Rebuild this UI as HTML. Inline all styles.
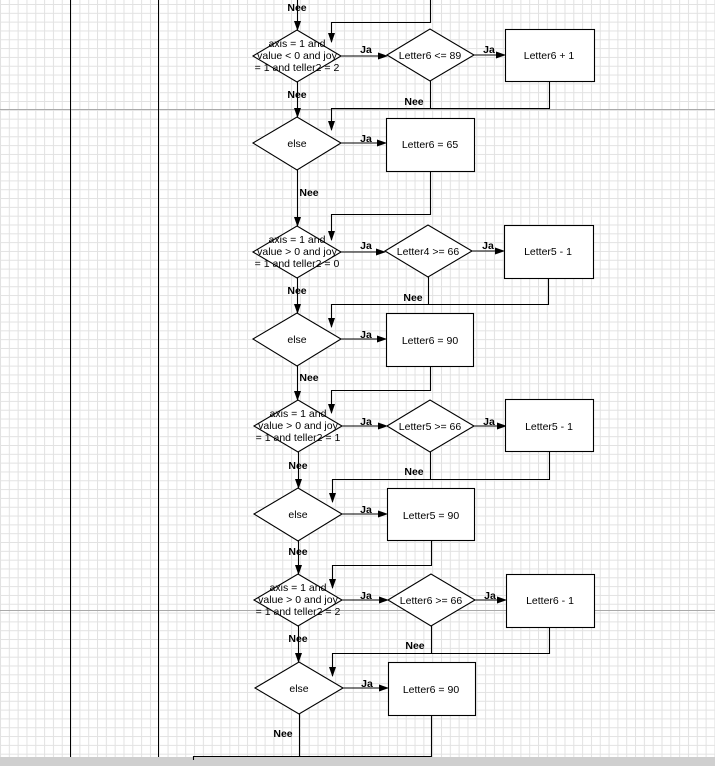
<!DOCTYPE html>
<html><head><meta charset="utf-8"><style>
html,body{margin:0;padding:0;background:#fff;}
svg{display:block;}
text{font-family:"Liberation Sans",Arial,sans-serif;font-size:10.5px;fill:#000;}
.b{font-weight:bold;}
</style></head><body>
<svg width="715" height="766" viewBox="0 0 715 766" xmlns="http://www.w3.org/2000/svg">
<defs>
<pattern id="g" width="8.82" height="8.82" patternUnits="userSpaceOnUse" x="0" y="4">
<path d="M0 0.5H8.82M0.5 0V8.82" stroke="#e2e2e2" stroke-width="1" fill="none"/>
</pattern>
<marker id="a" markerWidth="10" markerHeight="8" refX="9" refY="4" orient="auto" markerUnits="userSpaceOnUse">
<path d="M0 0.5L10 4L0 7.5Z" fill="#000"/>
</marker>
</defs>
<rect width="715" height="766" fill="url(#g)"/>
<line x1="0" y1="109.5" x2="715" y2="109.5" stroke="#aaa"/>
<line x1="0" y1="610.5" x2="715" y2="610.5" stroke="#aaa"/>
<line x1="70.5" y1="0" x2="70.5" y2="757" stroke="#000"/>
<line x1="158.5" y1="0" x2="158.5" y2="757" stroke="#000"/>
<rect x="0" y="757" width="715" height="9" fill="#cfcfcf"/>

<g stroke="#000" fill="none" stroke-width="1.1">
<polyline points="430.5,0 430.5,22.5 331.5,22.5 331.5,42" marker-end="url(#a)"/>
<line x1="297.5" y1="0" x2="297.5" y2="30" marker-end="url(#a)"/>

<polygon points="253,56 297,30 341,56 297,82" fill="#fff"/>
<line x1="341" y1="56" x2="387" y2="56" marker-end="url(#a)"/>
<polygon points="387,55 430,29 474,55 430,81" fill="#fff"/>
<line x1="474" y1="55" x2="505" y2="55" marker-end="url(#a)"/>
<rect x="505.5" y="29.5" width="89" height="52" fill="#fff"/>
<line x1="297.5" y1="82" x2="297.5" y2="117" marker-end="url(#a)"/>
<polyline points="549.5,81 549.5,108.5 331.5,108.5 331.5,130" marker-end="url(#a)"/>
<line x1="430.5" y1="81" x2="430.5" y2="108.5"/>
<polygon points="253,143 297,117 341,143 297,170" fill="#fff"/>
<line x1="341" y1="143" x2="386" y2="143" marker-end="url(#a)"/>
<rect x="386.5" y="118.5" width="88" height="53" fill="#fff"/>
<line x1="297.5" y1="170" x2="297.5" y2="226" marker-end="url(#a)"/>
<polyline points="430.5,171 430.5,214.5 331.5,214.5 331.5,240" marker-end="url(#a)"/>

<polygon points="253,252 297,226 341,252 297,278" fill="#fff"/>
<line x1="341" y1="252" x2="385" y2="252" marker-end="url(#a)"/>
<polygon points="385,251 428,225 472,251 428,277" fill="#fff"/>
<line x1="472" y1="251" x2="504" y2="251" marker-end="url(#a)"/>
<rect x="504.5" y="225.5" width="89" height="53" fill="#fff"/>
<line x1="297.5" y1="278" x2="297.5" y2="313" marker-end="url(#a)"/>
<polyline points="548.5,278 548.5,304.5 331.5,304.5 331.5,327" marker-end="url(#a)"/>
<line x1="428.5" y1="277" x2="428.5" y2="304.5"/>
<polygon points="253,339 297,313 341,339 297,366" fill="#fff"/>
<line x1="341" y1="339" x2="386" y2="339" marker-end="url(#a)"/>
<rect x="386.5" y="313.5" width="87" height="53" fill="#fff"/>
<line x1="297.5" y1="366" x2="297.5" y2="400" marker-end="url(#a)"/>
<polyline points="430.5,366 430.5,390.5 331.5,390.5 331.5,413" marker-end="url(#a)"/>

<polygon points="254,426 298,400 342,426 298,452" fill="#fff"/>
<line x1="342" y1="426" x2="387" y2="426" marker-end="url(#a)"/>
<polygon points="387,426 430,400 474,426 430,452" fill="#fff"/>
<line x1="474" y1="426" x2="506" y2="426" marker-end="url(#a)"/>
<rect x="505.5" y="399.5" width="88" height="52" fill="#fff"/>
<line x1="298.5" y1="452" x2="298.5" y2="488" marker-end="url(#a)"/>
<polyline points="549.5,452 549.5,479.5 332.5,479.5 332.5,502" marker-end="url(#a)"/>
<line x1="430.5" y1="452" x2="430.5" y2="479.5"/>
<polygon points="254,514 298,488 342,514 298,541" fill="#fff"/>
<line x1="342" y1="514" x2="387" y2="514" marker-end="url(#a)"/>
<rect x="387.5" y="488.5" width="87" height="52" fill="#fff"/>
<line x1="298.5" y1="541" x2="298.5" y2="574" marker-end="url(#a)"/>
<polyline points="431.5,541 431.5,565.5 332.5,565.5 332.5,588" marker-end="url(#a)"/>

<polygon points="254,600 298,574 342,600 298,626" fill="#fff"/>
<line x1="342" y1="600" x2="388" y2="600" marker-end="url(#a)"/>
<polygon points="388,600 431,574 475,600 431,626" fill="#fff"/>
<line x1="475" y1="600" x2="506" y2="600" marker-end="url(#a)"/>
<rect x="506.5" y="574.5" width="88" height="53" fill="#fff"/>
<line x1="298.5" y1="626" x2="298.5" y2="662" marker-end="url(#a)"/>
<polyline points="549.5,627 549.5,653.5 332.5,653.5 332.5,676" marker-end="url(#a)"/>
<line x1="431.5" y1="626" x2="431.5" y2="653.5"/>
<polygon points="255,688 299,662 343,688 299,714" fill="#fff"/>
<line x1="343" y1="688" x2="388" y2="688" marker-end="url(#a)"/>
<rect x="388.5" y="662.5" width="87" height="53" fill="#fff"/>
<line x1="299.5" y1="714" x2="299.5" y2="756.5"/>
<polyline points="431.5,715 431.5,756.5 193.5,756.5 193.5,760"/>
</g>

<g text-anchor="middle">
<text class="b" x="297" y="11">Nee</text>
<text x="297" y="47">axis = 1 and</text>
<text x="297" y="59">value &lt; 0 and joy</text>
<text x="297" y="71">= 1 and teller2 = 2</text>
<text class="b" x="366" y="53">Ja</text>
<text x="430" y="59">Letter6 &lt;= 89</text>
<text class="b" x="489" y="53">Ja</text>
<text x="549" y="59">Letter6 + 1</text>
<text class="b" x="297" y="98">Nee</text>
<text class="b" x="414" y="105">Nee</text>
<text x="297" y="147">else</text>
<text class="b" x="366" y="142">Ja</text>
<text x="430" y="148">Letter6 = 65</text>
<text class="b" x="309" y="196">Nee</text>
<text x="297" y="243">axis = 1 and</text>
<text x="297" y="255">value &gt; 0 and joy</text>
<text x="297" y="267">= 1 and teller2 = 0</text>
<text class="b" x="366" y="249">Ja</text>
<text x="428" y="255">Letter4 &gt;= 66</text>
<text class="b" x="488" y="249">Ja</text>
<text x="548" y="255">Letter5 - 1</text>
<text class="b" x="297" y="294">Nee</text>
<text class="b" x="413" y="301">Nee</text>
<text x="297" y="343">else</text>
<text class="b" x="366" y="338">Ja</text>
<text x="430" y="344">Letter6 = 90</text>
<text class="b" x="309" y="381">Nee</text>
<text x="298" y="417">axis = 1 and</text>
<text x="298" y="429">value &gt; 0 and joy</text>
<text x="298" y="441">= 1 and teller2 = 1</text>
<text class="b" x="366" y="425">Ja</text>
<text x="430" y="430">Letter5 &gt;= 66</text>
<text class="b" x="489" y="425">Ja</text>
<text x="549" y="430">Letter5 - 1</text>
<text class="b" x="298" y="469">Nee</text>
<text class="b" x="414" y="475">Nee</text>
<text x="298" y="518">else</text>
<text class="b" x="366" y="513">Ja</text>
<text x="431" y="519">Letter5 = 90</text>
<text class="b" x="298" y="555">Nee</text>
<text x="298" y="591">axis = 1 and</text>
<text x="298" y="603">value &gt; 0 and joy</text>
<text x="298" y="615">= 1 and teller2 = 2</text>
<text class="b" x="366" y="599">Ja</text>
<text x="431" y="604">Letter6 &gt;= 66</text>
<text class="b" x="490" y="599">Ja</text>
<text x="550" y="604">Letter6 - 1</text>
<text class="b" x="298" y="642">Nee</text>
<text class="b" x="415" y="649">Nee</text>
<text x="299" y="692">else</text>
<text class="b" x="367" y="687">Ja</text>
<text x="431" y="693">Letter6 = 90</text>
<text class="b" x="283" y="737">Nee</text>
</g>
</svg>
</body></html>
